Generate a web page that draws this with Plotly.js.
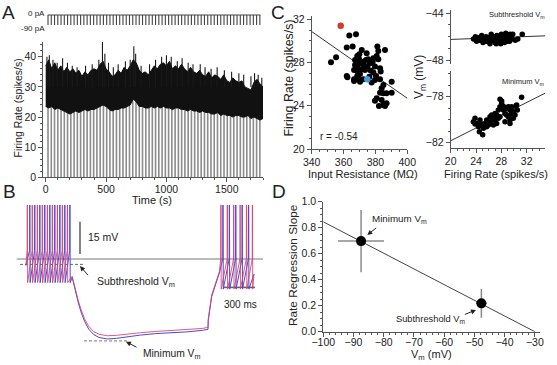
<!DOCTYPE html>
<html><head><meta charset="utf-8">
<script src="https://cdn.plot.ly/plotly-3.0.1.min.js"></script>
<style>html,body{margin:0;padding:0;background:#fff;}#chart{width:557px;height:365px;}</style>
</head><body><div id="chart"></div>
<script>
// ---------------- DATA ----------------
// Panel A: firing rate envelope over time (s)
const envT = [0,25,50,75,100,125,150,175,200,225,250,275,300,325,350,375,400,425,450,475,500,525,550,575,600,625,650,675,700,725,750,775,800,825,850,875,900,925,950,975,1000,1025,1050,1075,1100,1125,1150,1175,1200,1225,1250,1275,1300,1325,1350,1375,1400,1425,1450,1475,1500,1525,1550,1575,1600,1625,1650,1675,1700,1725,1750,1775,1800];
const upperEnv = [37,39,36,38,35.5,37,35,36.5,35,36,34.5,35.5,33.5,35,34,35.5,36,35.5,37.5,38.5,36,35,33.5,34,35.5,34.5,36.5,35.5,37,39,38,35.5,34.5,35,34,35.5,37,36,37.5,38,37,38.5,36,37,36,37.5,36,35,36.5,35,34.5,35.5,34,33.5,35,33,34,33.5,32.5,34,32,31.5,33,32,31.5,32,30,29.5,29,31.5,32.5,31,30];
const lowerEnv = [23.5,23,23.5,22.5,23,22.5,22,21.5,21,21.5,22,21.5,22,22.5,22,22.5,22.5,23,23.5,24,23.5,22.5,22,22.5,22.5,23,23,23.5,24,26,25,23.5,23.5,23,23,23.5,23,23.5,23,23.5,23,23,22.5,23,23,22.5,22.5,22,22.5,22,22,21.5,22,21.5,21.5,21,21,21.5,20.5,21,20.5,20.5,20,20.5,20.5,20,20,20.5,19.5,20,19.5,19,19.5];
const peakT = [10,30,60,95,140,180,220,260,330,385,440,470,490,520,560,600,660,700,730,745,790,860,910,960,1000,1040,1090,1130,1180,1220,1280,1320,1370,1420,1480,1540,1600,1640,1700,1730,1760,1790];
const peakV = [40,40.5,39,38,39.5,38,37,36.5,37,37.5,39,45,41,38,36.5,37.5,38.5,39,43.5,41,37,37.5,39,40,40.5,40,38.5,39.5,38,37.5,37.5,36.5,36,36.5,35.5,35,34.5,34,33.5,34.5,34,33];
// hyperpolarizing pulse times (s), stimulus levels (pA)
const pulseT = [19,46,73,100,127,154,181,208,235,262,289,316,343,370,397,424,451,478,505,532,559,586,613,640,667,694,721,748,775,802,829,856,883,910,937,964,991,1018,1045,1072,1099,1126,1153,1180,1207,1234,1261,1288,1315,1342,1369,1396,1423,1450,1477,1504,1531,1558,1585,1612,1639,1666,1693,1720,1747,1774];
const stimSpan = [17, 1778];
const stimLevels = [0, -90];

// Panel B: membrane potential traces (ms, mV)
const redSpikesL = [6,54,103,151,200,248,297,345,394];
const blueSpikesL = [30,78,127,175,224,272,321,369,418];
const redSpikesR = [1880,1942,2004,2066,2128,2185];
const blueSpikesR = [1900,1962,2024,2086,2148];
const hypT = [440,470,500,530,560,600,650,700,780,870,970,1100,1250,1400,1550,1700,1755];
const redHypV = [-52,-58,-63.5,-68,-71.8,-75.3,-77.8,-79.0,-79.7,-79.5,-78.9,-78.3,-77.7,-77.3,-77.0,-76.3,-75.8];
const blueHypV = [-52.5,-59,-64.5,-69.2,-73,-76.6,-79.2,-80.5,-81.2,-80.9,-80.2,-79.4,-78.7,-78.4,-77.9,-77.2,-76.7];
const relT = [1758,1791,1833,1865];
const redRelV = [-71.6,-60.7,-54.5,-49.9];
const blueRelV = [-72.5,-61.5,-55.2,-50.5];
const refLineT = [-97, 2287], refLineV = -44;
const subDashT = [-65, 565], subDashV = -46.5;
const minDashT = [555, 971], minDashV = -82.1;
const barVT = 516, barVV = [-41.65, -26.65];   // 15 mV
const barHT = [1910, 2210], barHV = -57.2;      // 300 ms

// Panel C left: input resistance vs firing rate
const resX = [352.1,355.3,362.0,363.6,367.8,365.7,369.9,371.4,374.5,368.6,369.7,367.2,367.2,368.6,370.3,372.0,372.8,374.1,375.5,376.6,374.9,373.5,371.4,368.6,366.6,370.3,368.6,362.0,362.4,366.6,369.5,366.6,370.3,372.4,378.3,379.7,381.2,381.8,380.8,378.7,381.8,386.0,382.9,383.3,380.4,378.7,377.0,376.2,379.7,382.9,390.2,385.0,383.9,387.0,390.2,385.0,382.9,380.8,379.7,383.9,382.2,386.0,385.0,387.0,377.6];
const rateY = [28.02,28.48,29.38,30.49,30.61,29.47,28.76,29.16,28.85,28.61,28.33,28.24,27.77,27.62,27.93,28.08,27.77,28.24,28.30,27.93,27.62,27.31,27.37,27.22,27.31,26.94,26.76,26.76,26.63,26.45,26.48,26.29,26.23,26.45,28.08,27.62,29.47,29.07,28.61,28.39,28.30,29.16,27.47,27.16,26.76,27.07,27.25,26.69,26.39,26.45,26.23,25.92,25.62,25.15,25.21,25.15,25.21,24.69,24.47,24.54,23.98,23.98,24.07,24.23,26.14];
const redPt = [358.2, 31.4];
const bluePt = [374.9, 26.45];
const fitCX = [340, 400], fitCY = [30.86, 24.69];

// Panel C right: Vm vs firing rate
const subRate = [23.6,23.9,24.1,24.4,24.6,24.9,25.1,25.3,25.6,25.8,26.0,26.2,26.4,26.6,26.8,27.0,27.1,27.3,27.5,27.7,27.9,28.0,28.2,28.4,28.5,28.7,28.9,29.1,29.3,29.5,29.8,30.2,30.6,31.3,25.0,25.5,26.3,26.9,27.4,28.1,28.6,29.0,29.4,27.6,26.7,24.3,28.8,27.2,25.9,29.7];
const subVm = [-46.2,-46.0,-46.4,-46.1,-46.3,-45.9,-46.5,-46.2,-46.0,-46.4,-46.1,-46.6,-45.8,-46.3,-46.0,-46.5,-46.2,-45.9,-46.4,-46.1,-46.6,-45.8,-46.3,-46.0,-46.5,-45.7,-46.2,-45.9,-46.4,-46.1,-45.8,-46.3,-46.2,-45.8,-46.0,-46.4,-46.2,-46.3,-46.0,-46.5,-46.2,-46.4,-45.8,-46.3,-46.1,-46.3,-46.0,-46.6,-46.3,-46.2];
const fitSubX = [20, 34.9], fitSubY = [-46.24, -45.93];
const minRate = [23.58,23.84,24.11,24.37,24.63,24.89,25.16,24.53,25.05,25.68,25.95,26.32,26.74,27.0,27.26,27.53,27.79,28.05,28.32,28.58,28.84,29.11,29.37,27.79,28.05,28.42,28.84,29.37,29.63,29.89,30.16,30.42,30.53,29.89,29.37,28.58,27.79,27.26,26.74,26.21,25.68,31.2,30.32,29.11,29.63,27.53,27.0,26.47,24.63,25.42,23.84];
const minVm = [-80.17,-79.88,-80.32,-80.61,-80.03,-80.37,-80.75,-81.04,-81.3,-80.61,-80.46,-80.17,-79.88,-80.03,-79.59,-79.16,-78.87,-78.58,-79.16,-79.45,-79.59,-79.74,-80.03,-78.23,-78.37,-78.87,-79.01,-79.16,-79.45,-79.30,-79.59,-78.72,-79.16,-79.88,-80.32,-80.17,-79.74,-80.32,-80.46,-79.74,-80.03,-78.05,-78.81,-78.87,-78.87,-79.88,-79.45,-79.59,-80.46,-80.32,-80.37];
const fitMinX = [20, 34.9], fitMinY = [-81.83, -77.7];

// Panel D: regression slope vs Vm
const dVm = [-87.5, -47.7];
const dSlope = [0.697, 0.218];
const dVmErr = [7.6, 1.8];
const dSlopeErr = [0.24, 0.11];
const fitDX = [-100, -30], fitDY = [0.845, 0.0];

// ---------------- HELPERS ----------------
const W = 557, H = 365;
const PX = p => p / W, PY = p => 1 - p / H;
const domX = (a, b) => [a / W, b / W];
const domY = (top, bot) => [1 - bot / H, 1 - top / H];
const FF = 'Liberation Sans, Arial, sans-serif';
const TXT = '#222', AX = '#555';

function vlines(ts, y0, y1s) {
  const x = [], y = [];
  ts.forEach((t, i) => { x.push(t, t, null); y.push(y0, Array.isArray(y1s) ? y1s[i] : y1s, null); });
  return {x, y};
}
function buildTrace(spL, hT, hV, rT, rV, spR) {
  const x = [-8], y = [-47];
  spL.forEach(t => { x.push(t - 2, t, t + 3); y.push(-40, 0, -55); });
  hT.forEach((t, i) => { x.push(t); y.push(hV[i]); });
  rT.forEach((t, i) => { x.push(t); y.push(rV[i]); });
  spR.forEach(t => { x.push(t - 2, t, t + 3); y.push(-44, 0, -58); });
  x.push(2200); y.push(-51);
  return {x, y};
}

const traces = [];
// ---- Panel A ----
const dips = vlines(pulseT, 0, 28);
traces.push({x: dips.x, y: dips.y, xaxis: 'x', yaxis: 'y', mode: 'lines', line: {color: '#8c8c8c', width: 1.6}, hoverinfo: 'skip'});
traces.push({x: envT, y: lowerEnv, xaxis: 'x', yaxis: 'y', mode: 'lines', line: {color: '#111', width: 1}, hoverinfo: 'skip'});
traces.push({x: envT, y: upperEnv, xaxis: 'x', yaxis: 'y', mode: 'lines', fill: 'tonexty', fillcolor: '#111', line: {color: '#111', width: 1}, hoverinfo: 'skip'});
const pk = vlines(peakT, 30, peakV);
traces.push({x: pk.x, y: pk.y, xaxis: 'x', yaxis: 'y', mode: 'lines', line: {color: '#1a1a1a', width: 1.1}, hoverinfo: 'skip'});
// stimulus
traces.push({x: stimSpan, y: [stimLevels[0], stimLevels[0]], xaxis: 'x2', yaxis: 'y2', mode: 'lines', line: {color: '#444', width: 1}, hoverinfo: 'skip'});
const st = vlines(pulseT, stimLevels[0], stimLevels[1]);
traces.push({x: st.x, y: st.y, xaxis: 'x2', yaxis: 'y2', mode: 'lines', line: {color: '#444', width: 1.1}, hoverinfo: 'skip'});

// ---- Panel B ----
traces.push({x: refLineT, y: [refLineV, refLineV], xaxis: 'x3', yaxis: 'y3', mode: 'lines', line: {color: '#7a7a7a', width: 1.2}, hoverinfo: 'skip'});
traces.push({x: subDashT, y: [subDashV, subDashV], xaxis: 'x3', yaxis: 'y3', mode: 'lines', line: {color: '#666', width: 1, dash: '3px,2px'}, hoverinfo: 'skip'});
traces.push({x: minDashT, y: [minDashV, minDashV], xaxis: 'x3', yaxis: 'y3', mode: 'lines', line: {color: '#777', width: 1, dash: '3px,2px'}, hoverinfo: 'skip'});
traces.push({x: [barVT, barVT], y: barVV, xaxis: 'x3', yaxis: 'y3', mode: 'lines', line: {color: '#666', width: 1.6}, hoverinfo: 'skip'});
traces.push({x: barHT, y: [barHV, barHV], xaxis: 'x3', yaxis: 'y3', mode: 'lines', line: {color: '#666', width: 1.6}, hoverinfo: 'skip'});
const bl = buildTrace(blueSpikesL, hypT, blueHypV, relT, blueRelV, blueSpikesR);
traces.push({x: bl.x, y: bl.y, xaxis: 'x3', yaxis: 'y3', mode: 'lines', line: {color: '#5048d4', width: 1}, hoverinfo: 'skip'});
const rd = buildTrace(redSpikesL, hypT, redHypV, relT, redRelV, redSpikesR);
traces.push({x: rd.x, y: rd.y, xaxis: 'x3', yaxis: 'y3', mode: 'lines', line: {color: '#d8406a', width: 1}, opacity: 0.85, hoverinfo: 'skip'});

// ---- Panel C left ----
traces.push({x: fitCX, y: fitCY, xaxis: 'x4', yaxis: 'y4', mode: 'lines', line: {color: '#333', width: 1}, hoverinfo: 'skip'});
traces.push({x: resX, y: rateY, xaxis: 'x4', yaxis: 'y4', mode: 'markers', marker: {color: '#000', size: 6}, hoverinfo: 'skip'});
traces.push({x: [redPt[0]], y: [redPt[1]], xaxis: 'x4', yaxis: 'y4', mode: 'markers', marker: {color: '#d13a2c', size: 6.5}, hoverinfo: 'skip'});
traces.push({x: [bluePt[0]], y: [bluePt[1]], xaxis: 'x4', yaxis: 'y4', mode: 'markers', marker: {color: '#3e9de0', size: 6.5}, hoverinfo: 'skip'});

// ---- Panel C right ----
traces.push({x: fitSubX, y: fitSubY, xaxis: 'x5', yaxis: 'y5', mode: 'lines', line: {color: '#333', width: 1}, hoverinfo: 'skip'});
traces.push({x: subRate, y: subVm, xaxis: 'x5', yaxis: 'y5', mode: 'markers', marker: {color: '#000', size: 5.5}, hoverinfo: 'skip'});
traces.push({x: fitMinX, y: fitMinY, xaxis: 'x6', yaxis: 'y6', mode: 'lines', line: {color: '#333', width: 1}, hoverinfo: 'skip'});
traces.push({x: minRate, y: minVm, xaxis: 'x6', yaxis: 'y6', mode: 'markers', marker: {color: '#000', size: 5.5}, hoverinfo: 'skip'});

// ---- Panel D ----
traces.push({x: fitDX, y: fitDY, xaxis: 'x7', yaxis: 'y7', mode: 'lines', line: {color: '#444', width: 1}, hoverinfo: 'skip'});
traces.push({x: dVm, y: dSlope, xaxis: 'x7', yaxis: 'y7', mode: 'markers', marker: {color: '#000', size: 10},
  error_x: {type: 'data', array: dVmErr, visible: true, color: '#8a8a8a', thickness: 1.5, width: 0},
  error_y: {type: 'data', array: dSlopeErr, visible: true, color: '#8a8a8a', thickness: 1.5, width: 0}, hoverinfo: 'skip'});

// ---------------- LAYOUT ----------------
const tf = {family: FF, size: 10.5, color: TXT};
function axis(o) {
  return Object.assign({showline: true, linecolor: AX, linewidth: 1, ticks: 'outside', ticklen: 4, tickwidth: 1, tickcolor: AX,
    showgrid: false, zeroline: false, tickfont: tf, fixedrange: true}, o);
}
const mn = d => ({dtick: d, ticklen: 2, ticks: 'outside', tickcolor: AX, showgrid: false});
const hidden = o => Object.assign({visible: false, fixedrange: true, showgrid: false, zeroline: false}, o);

const layout = {
  width: W, height: H, margin: {l: 0, r: 0, t: 0, b: 0},
  paper_bgcolor: '#fff', plot_bgcolor: 'rgba(0,0,0,0)', showlegend: false,
  font: {family: FF, size: 11, color: TXT},
  // A
  xaxis: axis({domain: domX(43.3, 263), range: [-20, 1800], anchor: 'y', tickvals: [0, 500, 1000, 1500], minor: mn(100), ticklabelstandoff: -2}),
  yaxis: axis({domain: domY(41.7, 177.3), range: [0, 45], anchor: 'x', tickvals: [0, 10, 20, 30, 40], minor: mn(2)}),
  xaxis2: hidden({domain: domX(43.3, 263), range: [-20, 1800], anchor: 'y2'}),
  yaxis2: hidden({domain: domY(14, 26), range: [-99, 9], anchor: 'x2'}),
  // B
  xaxis3: hidden({domain: domX(10, 270), range: [-161.7, 2355.3], anchor: 'y3'}),
  yaxis3: hidden({domain: domY(205, 350), range: [-86.33, -18.88], anchor: 'x3'}),
  // C left
  xaxis4: axis({domain: domX(311.7, 407.3), range: [340, 400], anchor: 'y4', tickvals: [340, 360, 380, 400], minor: mn(5), ticklabelstandoff: -1}),
  yaxis4: axis({domain: domY(16, 149), range: [20, 32.3], anchor: 'x4', tickvals: [20, 24, 28, 32], minor: mn(1)}),
  // C right top
  xaxis5: hidden({domain: domX(450.7, 545), range: [20, 34.9], anchor: 'y5'}),
  yaxis5: axis({domain: domY(9.8, 63.5), range: [-48.3, -43.7], anchor: 'x5', tickvals: [-48, -44], minor: mn(1)}),
  // C right bottom
  xaxis6: axis({domain: domX(450.7, 545), range: [20, 34.9], anchor: 'y6', tickvals: [20, 24, 28, 32], minor: mn(1), ticklabelstandoff: -1}),
  yaxis6: axis({domain: domY(71.4, 148.45), range: [-82.5, -75.8], anchor: 'x6', tickvals: [-82, -78], minor: mn(1)}),
  // D
  xaxis7: axis({domain: domX(323.3, 540), range: [-100, -28.3], anchor: 'y7', tickvals: [-100, -90, -80, -70, -60, -50, -40, -30], minor: mn(2), ticklabelstandoff: -3}),
  yaxis7: axis({domain: domY(201.7, 331.7), range: [0, 1.0], anchor: 'x7', tickvals: [0, 0.2, 0.4, 0.6, 0.8, 1.0], ticktext: ['0.0', '0.2', '0.4', '0.6', '0.8', '1.0'], minor: mn(0.05)}),
  annotations: []
};

function txt(text, x, y, o) {
  layout.annotations.push(Object.assign({text, x: PX(x), y: PY(y), xref: 'paper', yref: 'paper', showarrow: false,
    xanchor: 'center', yanchor: 'middle', font: {family: FF, size: 11, color: TXT}}, o || {}));
}
function arrow(hx, hy, tx, ty) {
  layout.annotations.push({text: '', x: PX(hx), y: PY(hy), xref: 'paper', yref: 'paper', showarrow: true,
    ax: tx - hx, ay: ty - hy, axref: 'pixel', ayref: 'pixel', arrowhead: 2, arrowsize: 1, arrowwidth: 1, arrowcolor: '#222', standoff: 0, startstandoff: 0});
}
const F = s => ({family: FF, size: s, color: TXT});
txt('A', 8.5, 12.5, {font: F(19)});
txt('B', 9, 191.5, {font: F(19)});
txt('C', 277.5, 13, {font: F(19)});
txt('D', 278.5, 191.5, {font: F(19)});
// A
txt('0 pA', 47, 14, {xanchor: 'right', font: F(8)});
txt('-90 pA', 47.3, 28.5, {xanchor: 'right', font: F(8)});
txt('Firing Rate (spikes/s)', 18, 108.5, {textangle: -90, font: F(10.5)});
txt('Time (s)', 151.7, 200);
// B
txt('15 mV', 86, 237, {xanchor: 'left', font: F(10.5)});
txt('300 ms', 241, 304, {font: F(10)});
txt('Subthreshold V<sub>m</sub>', 136.3, 282, {font: F(10.5)});
arrow(80, 266, 89.3, 276.7);
txt('Minimum V<sub>m</sub>', 171.7, 354, {font: F(10.3)});
arrow(126, 341.7, 138, 348);
// C
txt('Firing Rate (spikes/s)', 288.5, 78, {textangle: -90, font: F(12.4)});
txt('Input Resistance (MΩ)', 363, 173.5);
txt('r = -0.54', 318, 136.7, {xanchor: 'left', font: F(10)});
txt('V<sub>m</sub> (mV)', 420, 77, {textangle: -90, font: F(12)});
txt('Firing Rate (spikes/s)', 495.7, 173.5);
txt('Subthreshold V<sub>m</sub>', 547, 15.5, {xanchor: 'right', font: F(7.5)});
txt('Minimum V<sub>m</sub>', 547, 82, {xanchor: 'right', font: F(7.5)});
// D
txt('Rate Regression Slope', 293, 265, {textangle: -90, font: F(11.8)});
txt('V<sub>m</sub> (mV)', 431.7, 355);
txt('Minimum V<sub>m</sub>', 399.5, 219, {font: F(9.8)});
arrow(367.3, 235, 377.7, 226.7);
txt('Subthreshold V<sub>m</sub>', 430, 319, {font: F(9.3)});
arrow(476, 310, 463.3, 315);

Plotly.newPlot('chart', traces, layout, {staticPlot: true, displayModeBar: false});
</script></body></html>
